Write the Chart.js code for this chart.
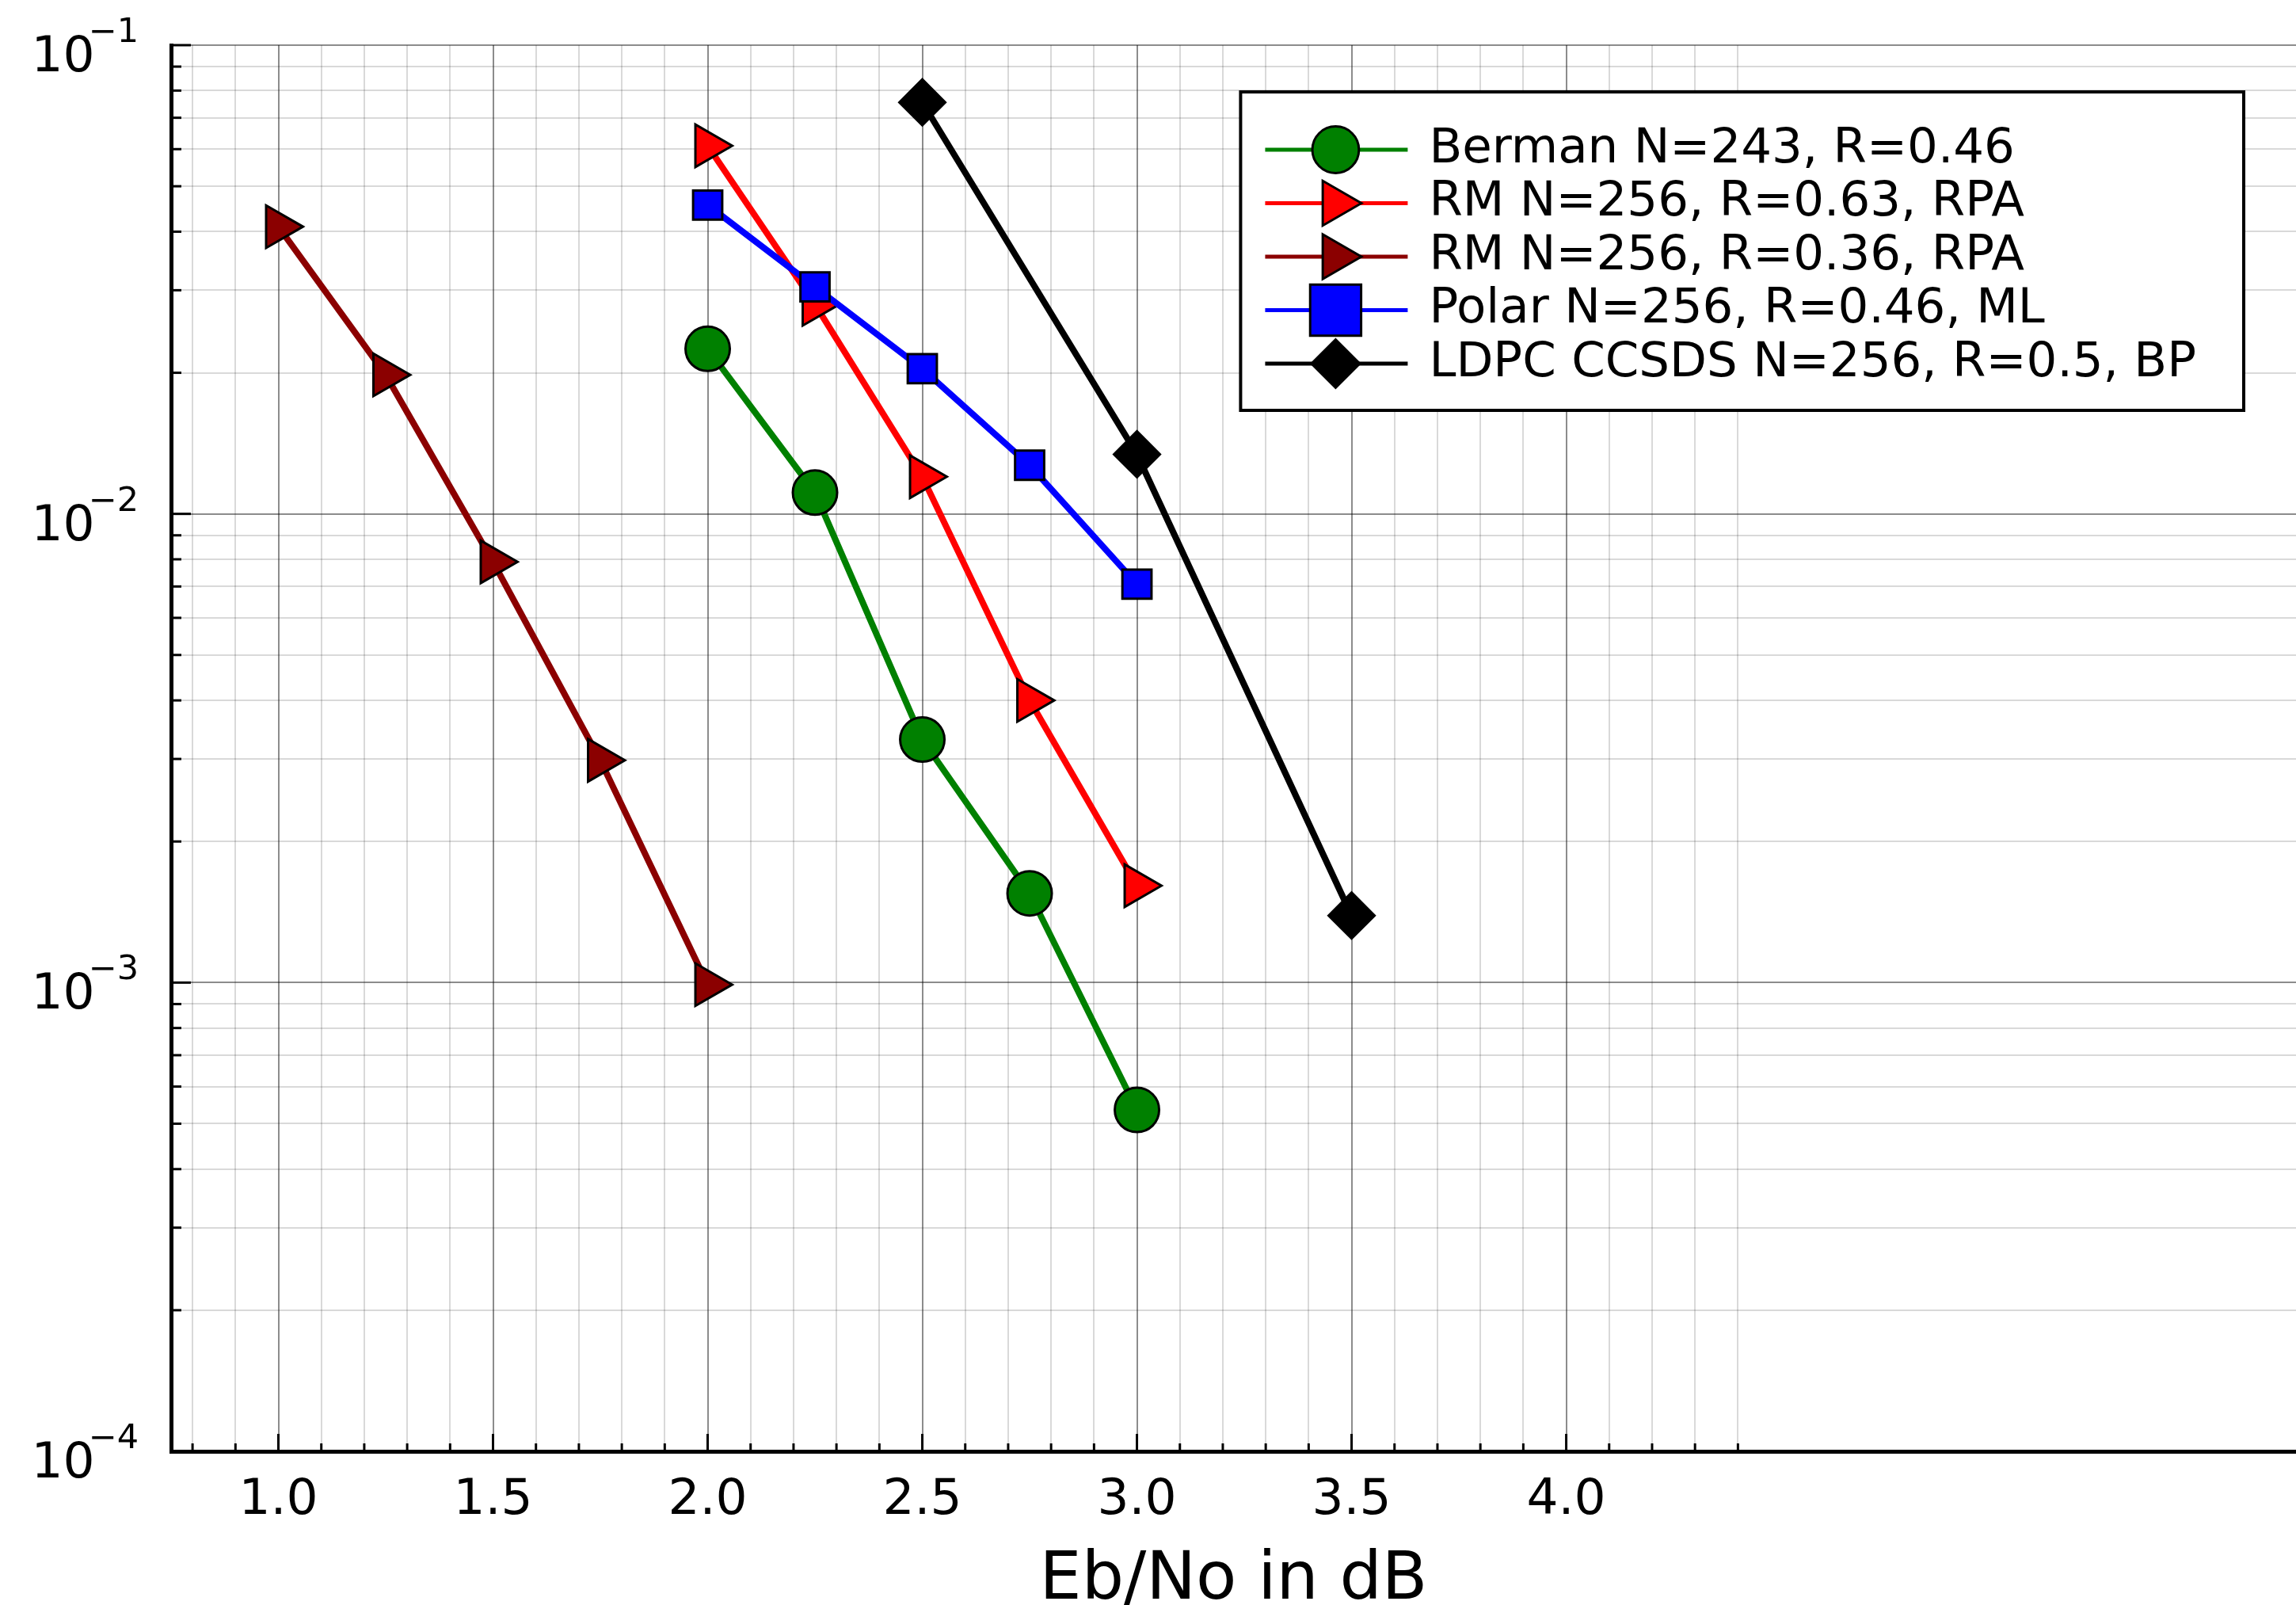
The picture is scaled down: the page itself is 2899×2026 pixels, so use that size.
<!DOCTYPE html>
<html>
<head>
<meta charset="utf-8">
<script src="https://cdn.jsdelivr.net/npm/chart.js@4.4.0/dist/chart.umd.min.js"></script>
<style>
  html, body { margin: 0; padding: 0; background: #fff; }
  #wrap { width: 2899px; height: 2026px; }
</style>
</head>
<body>
<div id="wrap"><canvas id="ber-chart" width="2899" height="2026"></canvas></div>
<script>
// curves (x = Eb/No in dB, y = error rate)
const bermanX = [2.0, 2.25, 2.5, 2.75, 3.0];
const bermanY = [0.0225, 0.0111, 0.0033, 0.00155, 0.000535];
const rm63X = [2.0, 2.25, 2.5, 2.75, 3.0];
const rm63Y = [0.061, 0.028, 0.012, 0.0040, 0.00161];
const rm36X = [1.0, 1.25, 1.5, 1.75, 2.0];
const rm36Y = [0.041, 0.0198, 0.0079, 0.00298, 0.00099];
const polarX = [2.0, 2.25, 2.5, 2.75, 3.0];
const polarY = [0.0456, 0.0305, 0.0204, 0.0127, 0.00708];
const ldpcX = [2.5, 3.0, 3.5];
const ldpcY = [0.0755, 0.0134, 0.00139];

const seriesLabels = [
  "Berman N=243, R=0.46",
  "RM N=256, R=0.63, RPA",
  "RM N=256, R=0.36, RPA",
  "Polar N=256, R=0.46, ML",
  "LDPC CCSDS N=256, R=0.5, BP",
];

const xMajorTicks = [1.0, 1.5, 2.0, 2.5, 3.0, 3.5, 4.0];
const xTickLabels = ["1.0", "1.5", "2.0", "2.5", "3.0", "3.5", "4.0"];
const yMajorTicks = [1e-4, 1e-3, 1e-2, 1e-1];

const FONT = "'DejaVu Sans', 'Liberation Sans', sans-serif";

// minor x ticks every 0.1 from 0.8 to 4.4
const xAllTicks = [];
for (let k = 8; k <= 44; k++) xAllTicks.push(k / 10);
const yAllTicks = [];
for (let e = -4; e <= -1; e++) {
  for (let m = 1; m <= 9; m++) {
    if (e === -1 && m > 1) break;
    yAllTicks.push(parseFloat((m * Math.pow(10, e)).toPrecision(6)));
  }
}

function isXMajor(v) {
  return xMajorTicks.some((t) => Math.abs(t - v) < 1e-9);
}
function isYMajor(v) {
  const l = Math.log10(v);
  return Math.abs(l - Math.round(l)) < 1e-6;
}
function pts(xs, ys) {
  return xs.map((x, i) => ({ x: x, y: ys[i] }));
}

const seriesStyle = [
  { color: "#008000", pointStyle: "circle", radius: 28, rotation: 0 },
  { color: "#ff0000", pointStyle: "triangle", radius: 31, rotation: 90 },
  { color: "#8b0000", pointStyle: "triangle", radius: 31, rotation: 90 },
  { color: "#0000ff", pointStyle: "rect", radius: 26, rotation: 0 },
  { color: "#000000", pointStyle: "rectRot", radius: 29, rotation: 0 },
];
const seriesData = [
  pts(bermanX, bermanY),
  pts(rm63X, rm63Y),
  pts(rm36X, rm36Y),
  pts(polarX, polarY),
  pts(ldpcX, ldpcY),
];

const datasets = seriesData.map((d, i) => ({
  label: seriesLabels[i],
  data: d,
  borderColor: seriesStyle[i].color,
  backgroundColor: seriesStyle[i].color,
  borderWidth: 8,
  tension: 0,
  pointStyle: seriesStyle[i].pointStyle,
  pointRotation: seriesStyle[i].rotation,
  pointRadius: seriesStyle[i].radius,
  pointHoverRadius: seriesStyle[i].radius,
  pointBackgroundColor: seriesStyle[i].color,
  pointBorderColor: "#000",
  pointBorderWidth: 3,
  order: seriesData.length - i, // later series on top, like the original
}));

// tick marks pointing into the plot, plus the 10^n labels
const axisDecor = {
  id: "axisDecor",
  afterDraw(chart) {
    const ctx = chart.ctx;
    const area = chart.chartArea;
    const xs = chart.scales.x;
    const ys = chart.scales.y;
    ctx.save();
    ctx.strokeStyle = "#000";
    ctx.lineWidth = 3;
    xs.ticks.forEach((t) => {
      const px = xs.getPixelForValue(t.value);
      const len = isXMajor(t.value) ? 22 : 10;
      ctx.beginPath();
      ctx.moveTo(px, area.bottom);
      ctx.lineTo(px, area.bottom - len);
      ctx.stroke();
    });
    ys.ticks.forEach((t) => {
      const py = ys.getPixelForValue(t.value);
      const len = isYMajor(t.value) ? 25 : 13;
      ctx.beginPath();
      ctx.moveTo(area.left, py);
      ctx.lineTo(area.left + len, py);
      ctx.stroke();
    });

    ctx.fillStyle = "#000";
    ctx.textBaseline = "alphabetic";
    yMajorTicks.forEach((v) => {
      const py = ys.getPixelForValue(v);
      const n = Math.round(Math.log10(v));
      const sup = (n < 0 ? "\u2212" : "") + Math.abs(n);
      ctx.font = "43px " + FONT;
      const supW = ctx.measureText(sup).width;
      const supX = area.left - 41 - supW;
      ctx.textAlign = "left";
      ctx.fillText(sup, supX, py - 4);
      ctx.font = "63px " + FONT;
      ctx.textAlign = "right";
      ctx.fillText("10", supX + 8, py + 33);
    });
    ctx.restore();
  },
};

// legend box in the upper right of the plot
const boxLegend = {
  id: "boxLegend",
  afterDraw(chart) {
    const ctx = chart.ctx;
    const area = chart.chartArea;
    ctx.save();
    ctx.font = "61px " + FONT;
    let maxW = 0;
    chart.data.datasets.forEach((ds) => {
      maxW = Math.max(maxW, ctx.measureText(ds.label).width);
    });
    const w = 238 + maxW + 60;
    const h = 402;
    const right = area.right - 66;
    const left = right - w;
    const top = area.top + 59;
    ctx.fillStyle = "#fff";
    ctx.fillRect(left, top, w, h);
    ctx.strokeStyle = "#000";
    ctx.lineWidth = 4;
    ctx.strokeRect(left, top, w, h);

    chart.data.datasets.forEach((ds, i) => {
      const cy = top + 73 + i * 67.5;
      ctx.strokeStyle = ds.borderColor;
      ctx.lineWidth = 5;
      ctx.beginPath();
      ctx.moveTo(left + 31, cy);
      ctx.lineTo(left + 211, cy);
      ctx.stroke();

      ctx.fillStyle = ds.pointBackgroundColor;
      ctx.strokeStyle = ds.pointBorderColor;
      ctx.lineWidth = ds.pointBorderWidth;
      const r = ds.pointStyle === "rect" ? ds.pointRadius * 1.75 : ds.pointRadius * 1.05;
      Chart.helpers.drawPoint(ctx, {
        pointStyle: ds.pointStyle,
        rotation: ds.pointRotation,
        radius: r,
        borderWidth: ds.pointBorderWidth,
      }, left + 120, cy);

      ctx.fillStyle = "#000";
      ctx.textAlign = "left";
      ctx.textBaseline = "middle";
      ctx.fillText(ds.label, left + 238, cy);
    });
    ctx.restore();
  },
};

const ctx = document.getElementById("ber-chart").getContext("2d");
new Chart(ctx, {
  type: "line",
  data: { datasets: datasets },
  options: {
    responsive: false,
    animation: false,
    devicePixelRatio: 1,
    layout: { autoPadding: false, padding: { top: 57, right: 0, left: 0, bottom: 0 } },
    plugins: {
      legend: { display: false },
      tooltip: { enabled: false },
    },
    scales: {
      x: {
        type: "linear",
        min: 0.75,
        max: 5.7,
        afterBuildTicks: (scale) => {
          scale.ticks = xAllTicks.map((v) => ({ value: v }));
        },
        afterFit: (scale) => {
          scale.height = 194;
          scale.paddingLeft = 0;
          scale.paddingRight = 0;
        },
        ticks: {
          autoSkip: false,
          maxRotation: 0,
          minRotation: 0,
          padding: 25,
          color: "#000",
          font: { family: FONT, size: 63 },
          callback: (value) => {
            const idx = xMajorTicks.findIndex((t) => Math.abs(t - value) < 1e-9);
            return idx >= 0 ? xTickLabels[idx] : "";
          },
        },
        grid: {
          drawTicks: false,
          lineWidth: 2,
          color: (c) => (c.tick && isXMajor(c.tick.value) ? "rgba(0,0,0,0.45)" : "rgba(0,0,0,0.15)"),
        },
        border: { display: true, color: "#000", width: 5 },
        title: {
          display: true,
          text: "Eb/No in dB",
          color: "#000",
          font: { family: FONT, size: 84, lineHeight: 0.72 },
          padding: 0,
        },
      },
      y: {
        type: "logarithmic",
        min: 1e-4,
        max: 1e-1,
        afterBuildTicks: (scale) => {
          scale.ticks = yAllTicks.map((v) => ({ value: v }));
        },
        afterFit: (scale) => {
          scale.width = 216;
          scale.paddingTop = 0;
          scale.paddingBottom = 0;
        },
        ticks: { display: false },
        grid: {
          drawTicks: false,
          lineWidth: 2,
          color: (c) => (c.tick && isYMajor(c.tick.value) ? "rgba(0,0,0,0.45)" : "rgba(0,0,0,0.15)"),
        },
        border: { display: true, color: "#000", width: 5 },
      },
    },
  },
  plugins: [axisDecor, boxLegend],
});
</script>
</body>
</html>
